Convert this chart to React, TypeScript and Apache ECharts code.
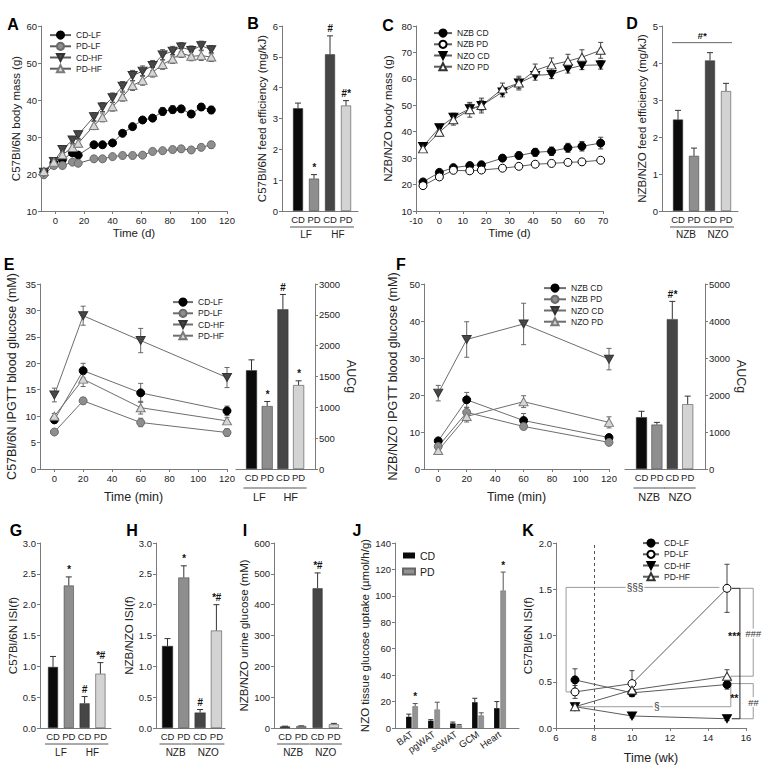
import React, { useEffect, useRef } from 'react';
import * as echarts from 'echarts';

const FONT = 'Arial, Liberation Sans, Helvetica, sans-serif';
const AX = '#7a7a7a';
const TXT = '#222222';

// ---------- Panel A: C57Bl/6N body mass ----------
const aDays = [-8, -1, 5, 12, 16, 27, 33, 40, 47, 54, 61, 68, 75, 82, 88, 95, 102, 109];
const aTicks = [0, 20, 40, 60, 80, 100, 120];
const aCDLF = [20.5, 23.0, 23.9, 25.7, 25.1, 27.9, 27.9, 28.4, 31.0, 32.8, 34.6, 35.1, 36.9, 37.4, 37.6, 36.2, 38.1, 37.3];
const aCDLFErr = [0.4, 0.5, 0.6, 0.6, 0.5, 0.6, 0.6, 0.6, 0.7, 0.8, 0.8, 0.9, 1.0, 1.0, 0.9, 0.9, 0.9, 1.0];
const aPDLF = [19.8, 22.3, 22.3, 23.2, 22.9, 24.1, 24.1, 24.7, 25.0, 25.0, 25.1, 26.1, 26.3, 26.6, 26.8, 26.5, 27.2, 27.9];
const aPDLFErr = [0.4, 0.5, 0.5, 0.5, 0.5, 0.5, 0.5, 0.5, 0.5, 0.5, 0.6, 0.6, 0.6, 0.7, 0.7, 0.7, 0.8, 0.9];
const aCDHF = [20.5, 23.4, 26.6, 29.2, 30.6, 35.5, 38.1, 40.6, 43.7, 46.6, 47.8, 49.3, 52.2, 53.2, 54.3, 53.4, 54.7, 53.6];
const aCDHFErr = [0.5, 0.6, 0.8, 0.9, 1.0, 1.1, 1.2, 1.3, 1.3, 1.4, 1.4, 1.4, 1.4, 1.3, 1.2, 1.2, 1.2, 1.1];
const aPDHF = [20.7, 23.2, 25.2, 27.2, 28.3, 33.1, 35.3, 38.2, 40.9, 43.9, 45.3, 47.5, 49.6, 51.1, 52.7, 51.8, 52.0, 51.6];
const aPDHFErr = [0.5, 0.6, 0.8, 0.9, 1.0, 1.1, 1.2, 1.2, 1.2, 1.3, 1.3, 1.3, 1.3, 1.2, 1.2, 1.2, 1.3, 1.2];

// ---------- Panel B: C57Bl/6N feed efficiency ----------
const dietCats = ['CD', 'PD', 'CD', 'PD'];
const fatGroups = ['LF', 'HF'];
const strainGroups = ['NZB', 'NZO'];
const bMean = [3.33, 1.05, 5.08, 3.42];
const bErr = [0.17, 0.13, 0.6, 0.16];
const bSig = ['', '*', '#', '#*'];

// ---------- Panel C: NZB/NZO body mass ----------
const cDays = [-7, 0, 6, 13, 18, 27, 34, 41, 48, 55, 61, 69];
const cTicks = [-10, 0, 10, 20, 30, 40, 50, 60, 70];
const cNZBCD = [21.0, 24.6, 26.4, 27.2, 27.5, 30.0, 31.0, 32.2, 32.6, 33.9, 34.5, 35.7];
const cNZBCDErr = [0.7, 0.8, 0.9, 1.0, 1.0, 1.2, 1.3, 1.5, 1.6, 1.7, 1.8, 2.2];
const cNZBPD = [19.6, 22.9, 25.4, 25.2, 25.5, 26.2, 26.9, 27.7, 28.0, 28.4, 28.6, 29.2];
const cNZBPDErr = [0.5, 0.6, 0.6, 0.6, 0.6, 0.6, 0.6, 0.7, 0.7, 0.7, 0.7, 0.8];
const cNZOCD = [34.4, 41.5, 45.5, 48.7, 49.9, 55.0, 58.4, 61.3, 61.7, 63.8, 65.1, 65.3];
const cNZOCDErr = [1.0, 1.2, 1.5, 1.8, 2.0, 1.8, 2.0, 1.8, 1.6, 1.6, 1.6, 1.6];
const cNZOPD = [33.5, 39.8, 44.5, 48.3, 49.9, 56.2, 58.4, 63.2, 65.3, 66.7, 68.2, 70.8];
const cNZOPDErr = [1.0, 1.5, 2.0, 2.8, 2.8, 2.2, 2.6, 2.4, 2.6, 2.6, 2.8, 3.0];

// ---------- Panel D: NZB/NZO feed efficiency ----------
const dMean = [2.47, 1.49, 4.07, 3.24];
const dErr = [0.25, 0.21, 0.21, 0.21];
const dBracketY = 4.55;
const dBracketText = '#*';

// ---------- Panel E: C57Bl/6N IPGTT ----------
const eTimes = [0, 20, 60, 120];
const eTicks = [0, 20, 40, 60, 80, 100, 120];
const eCDLF = [9.3, 18.6, 14.4, 11.0];
const eCDLFErr = [0.6, 1.4, 1.8, 0.9];
const ePDLF = [7.0, 12.9, 8.8, 6.9];
const ePDLFErr = [0.3, 0.6, 0.8, 0.7];
const eCDHF = [14.0, 29.0, 24.3, 17.3];
const eCDHFErr = [1.3, 1.8, 2.3, 1.9];
const ePDHF = [10.0, 17.0, 11.6, 9.1];
const ePDHFErr = [0.5, 1.4, 1.2, 0.6];
const eAUC = [1600, 1020, 2590, 1360];
const eAUCErr = [170, 75, 240, 70];
const eSig = ['', '*', '#', '*'];

// ---------- Panel F: NZB/NZO IPGTT ----------
const fNZBCD = [7.6, 18.7, 13.1, 8.5];
const fNZBCDErr = [0.6, 2.0, 1.9, 0.7];
const fNZBPD = [6.1, 15.3, 11.5, 7.2];
const fNZBPDErr = [0.6, 1.3, 0.8, 0.5];
const fNZOCD = [20.5, 35.0, 39.2, 29.7];
const fNZOCDErr = [2.1, 4.8, 5.6, 2.9];
const fNZOPD = [5.0, 14.2, 18.2, 12.6];
const fNZOPDErr = [0.8, 1.5, 1.6, 1.5];
const fAUC = [1400, 1200, 4050, 1750];
const fAUCErr = [160, 60, 480, 220];
const fSig = ['', '', '#*', ''];

// ---------- Panels G, H, I ----------
const gMean = [0.99, 2.31, 0.4, 0.88];
const gErr = [0.17, 0.14, 0.11, 0.18];
const gSig = ['', '*', '#', '*#'];
const hMean = [1.33, 2.44, 0.25, 1.58];
const hErr = [0.12, 0.19, 0.05, 0.42];
const hSig = ['', '*', '#', '*#'];
const iMean = [5, 6, 453, 12];
const iErr = [1, 1, 50, 3];
const iSig = ['', '', '*#', ''];

// ---------- Panel J: tissue glucose uptake ----------
const jTissues = ['BAT', 'pgWAT', 'scWAT', 'GCM', 'Heart'];
const jCD = [8.5, 5.5, 3.5, 19.5, 15];
const jCDErr = [2, 0.8, 1, 3, 5];
const jPD = [16.5, 14, 2, 9.5, 104];
const jPDErr = [2, 5.5, 0.6, 2, 14];
const jSig = ['*', '', '', '', '*'];

// ---------- Panel K: ISI over time ----------
const kWeeks = [7, 10, 15];
const kCDLF = [0.52, 0.38, 0.47];
const kCDLFErr = [0.12, 0.04, 0.05];
const kPDLF = [0.39, 0.48, 1.51];
const kPDLFErr = [0.07, 0.14, 0.26];
const kCDHF = [0.23, 0.13, 0.1];
const kCDHFErr = [0.03, 0.02, 0.02];
const kPDHF = [0.23, 0.41, 0.56];
const kPDHFErr = [0.04, 0.04, 0.07];

// ---------------------------------------------------------------
const DOWN = 'path://M0,0L10,0L5,8.66Z';
const SYM: Record<string, any> = {
  black: { symbol: 'circle', size: 8, fill: '#000', border: '#000' },
  gray: { symbol: 'circle', size: 8, fill: '#8e8e8e', border: '#6a6a6a' },
  open: { symbol: 'circle', size: 8, fill: '#fff', border: '#000' },
  darkDown: { symbol: DOWN, size: [9, 8], fill: '#484848', border: '#333' },
  blackDown: { symbol: DOWN, size: [9, 8], fill: '#000', border: '#000' },
  lightUp: { symbol: 'triangle', size: [9, 8], fill: '#d6d6d6', border: '#7a7a7a' },
  openUp: { symbol: 'triangle', size: [9, 8], fill: '#fff', border: '#333' },
};
const BAR_COLORS = ['#0b0b0b', '#8e8e8e', '#464646', '#d3d3d3'];

function barLayout(axisLeft: number, firstCenter: number, spacing: number, axisRight: number) {
  return {
    left: axisLeft,
    width: axisRight - axisLeft,
    min: 1 - (firstCenter - axisLeft) / spacing,
    max: 1 + (axisRight - firstCenter) / spacing,
  };
}

function buildOption() {
  const grids: any[] = [];
  const xAxes: any[] = [];
  const yAxes: any[] = [];
  const series: any[] = [];
  const legends: any[] = [];

  const lbl = (fs = 9.5, margin = 4) => ({ color: TXT, fontSize: fs, fontFamily: FONT, margin });
  const tick = { show: true, length: 3, lineStyle: { color: AX, width: 1 } };
  const line = { show: true, onZero: false, lineStyle: { color: AX, width: 1 } };
  const nameStyle = (fs = 11.5) => ({ color: TXT, fontSize: fs, fontFamily: FONT, fontWeight: 'normal' });

  function addGrid(left: number, top: number, width: number, height: number) {
    grids.push({ left, top, width, height, containLabel: false, outerBoundsMode: 'none', show: false });
    return grids.length - 1;
  }
  function xValue(g: number, min: number, max: number, ticks: number[], name: string, nameGap: number, fs = 11.5) {
    xAxes.push({
      gridIndex: g, type: 'value', min, max,
      axisLine: line,
      axisTick: { ...tick, customValues: ticks },
      axisLabel: { ...lbl(9.5, 4), customValues: ticks },
      splitLine: { show: false },
      name, nameLocation: 'middle', nameGap, nameTextStyle: nameStyle(fs),
    });
  }
  function xBars(g: number, lay: any, labels: string[], fs = 9.5, rotate = 0) {
    const vals = labels.map((_, i) => i + 1);
    xAxes.push({
      gridIndex: g, type: 'value', min: lay.min, max: lay.max,
      axisLine: line,
      axisTick: { show: false },
      axisLabel: {
        ...lbl(fs, rotate ? 5 : 3), rotate, customValues: vals,
        formatter: (v: number) => labels[Math.round(v) - 1] ?? '',
      },
      splitLine: { show: false },
    });
  }
  function yValue(g: number, min: number, max: number, interval: number, name: string, nameGap: number, o: any = {}) {
    yAxes.push({
      gridIndex: g, type: 'value', min, max, interval,
      position: o.position || 'left',
      axisLine: line,
      axisTick: tick,
      axisLabel: { ...lbl(9.5, 4), formatter: o.fmt || ((v: number) => String(v)) },
      splitLine: { show: false },
      name, nameLocation: 'middle', nameGap, nameRotate: o.rotate ?? 90, nameTextStyle: nameStyle(o.fs || 11.5),
    });
  }

  function errSeries(g: number, xs: number[], ys: number[], errs: number[], o: any) {
    const data = xs.map((x, i) => [x, o.both ? ys[i] - errs[i] : ys[i], ys[i] + errs[i]]);
    return {
      type: 'custom', xAxisIndex: g, yAxisIndex: g, silent: true, clip: false, z: o.z ?? 1,
      encode: { x: 0, y: [1, 2] }, data,
      renderItem: (_p: any, api: any) => {
        const x = api.value(0);
        const lo = api.coord([x, api.value(1)]);
        const hi = api.coord([x, api.value(2)]);
        const cx = lo[0] + (o.dx || 0);
        const c = o.cap;
        const st = { stroke: o.color, lineWidth: 1 };
        const ch: any[] = [
          { type: 'line', shape: { x1: cx, y1: lo[1], x2: cx, y2: hi[1] }, style: st },
          { type: 'line', shape: { x1: cx - c, y1: hi[1], x2: cx + c, y2: hi[1] }, style: st },
        ];
        if (o.both) ch.push({ type: 'line', shape: { x1: cx - c, y1: lo[1], x2: cx + c, y2: lo[1] }, style: st });
        return { type: 'group', children: ch };
      },
    };
  }
  function textSeries(g: number, pts: number[][], texts: string[], o: any = {}) {
    return {
      type: 'custom', xAxisIndex: g, yAxisIndex: g, silent: true, clip: false, z: 6,
      encode: { x: 0, y: 1 }, data: pts,
      renderItem: (p: any, api: any) => {
        const t = texts[p.dataIndex];
        if (!t) return { type: 'group', children: [] };
        const c = api.coord([api.value(0), api.value(1)]);
        return {
          type: 'text', x: c[0] + (o.dx || 0), y: c[1] + (o.dy ?? -2),
          style: {
            text: t, fontSize: o.fs || 10, fontFamily: FONT, fontWeight: o.weight || 'bold',
            fontStyle: o.italic ? 'italic' : 'normal', fill: o.color || '#111',
            align: 'center', textAlign: 'center', verticalAlign: o.va || 'bottom', textVerticalAlign: o.va || 'bottom',
            backgroundColor: o.bg, padding: o.bg ? [0, 1] : 0,
          },
        };
      },
    };
  }
  function groupSeries(g: number, groups: string[], yMin: number, lineDy: number, textDy: number, half: number, fs = 10) {
    return {
      type: 'custom', xAxisIndex: g, yAxisIndex: g, silent: true, clip: false, z: 6,
      encode: { x: [0, 1], y: 2 },
      data: groups.map((_, i) => [2 * i + 1, 2 * i + 2, yMin]),
      renderItem: (p: any, api: any) => {
        const a = api.coord([api.value(0), api.value(2)]);
        const b = api.coord([api.value(1), api.value(2)]);
        return {
          type: 'group',
          children: [
            { type: 'line', shape: { x1: a[0] - half, y1: a[1] + lineDy, x2: b[0] + half, y2: a[1] + lineDy }, style: { stroke: '#555', lineWidth: 1 } },
            {
              type: 'text', x: (a[0] + b[0]) / 2, y: a[1] + textDy,
              style: { text: groups[p.dataIndex], fontSize: fs, fontFamily: FONT, fill: TXT, align: 'center', textAlign: 'center', verticalAlign: 'middle', textVerticalAlign: 'middle' },
            },
          ],
        };
      },
    };
  }
  function addLines(g: number, prefix: string, xs: number[], defs: any[], errColor = '#555', lineColor = '#5c5c5c') {
    defs.forEach((d) => series.push(errSeries(g, xs, d.ys, d.errs, { both: true, color: errColor, cap: 2.5, z: 2 })));
    defs.forEach((d) =>
      series.push({
        type: 'line', name: prefix + '|' + d.name, xAxisIndex: g, yAxisIndex: g,
        data: xs.map((x, i) => [x, d.ys[i]]),
        symbol: d.sym.symbol, symbolSize: d.sym.size, showSymbol: true,
        lineStyle: { color: lineColor, width: 1 },
        itemStyle: { color: d.sym.fill, borderColor: d.sym.border, borderWidth: 1 },
        z: 3, silent: true, emphasis: { disabled: true },
      })
    );
  }
  function addBars(g: number, means: number[], errs: number[], sig: string[], barWidth: number) {
    const xs = means.map((_, i) => i + 1);
    series.push({
      type: 'bar', xAxisIndex: g, yAxisIndex: g, barWidth, silent: true, z: 3,
      data: means.map((v, i) => ({ value: [i + 1, v], itemStyle: { color: BAR_COLORS[i], borderColor: '#333', borderWidth: 0.5 } })),
    });
    series.push(errSeries(g, xs, means, errs, { both: false, color: '#333', cap: 3, z: 2 }));
    series.push(textSeries(g, xs.map((x, i) => [x, means[i] + errs[i]]), sig, { italic: true }));
  }
  function makeLegend(prefix: string, names: string[], left: number, top: number, itemWidth: number, o: any = {}) {
    legends.push({
      orient: 'vertical', left, top, padding: 0, itemWidth, itemHeight: o.itemHeight || 9, itemGap: o.itemGap ?? 2,
      selectedMode: false, icon: o.icon,
      data: names.map((n) => prefix + '|' + n),
      formatter: (n: string) => n.split('|')[1],
      textStyle: { fontSize: o.fs || 8.5, fontFamily: FONT, color: TXT, lineHeight: o.lh || 9 },
    });
  }

  const TOP1 = 26, TOP2 = 284, TOP3 = 543, H = 185;

  // A
  const gA = addGrid(41, TOP1, 186, H);
  xValue(gA, -10, 120, aTicks, 'Time (d)', 16);
  yValue(gA, 10, 60, 10, 'C57Bl/6N body mass (g)', 19);
  addLines(gA, 'A', aDays, [
    { name: 'CD-LF', ys: aCDLF, errs: aCDLFErr, sym: SYM.black },
    { name: 'PD-LF', ys: aPDLF, errs: aPDLFErr, sym: SYM.gray },
    { name: 'CD-HF', ys: aCDHF, errs: aCDHFErr, sym: SYM.darkDown },
    { name: 'PD-HF', ys: aPDHF, errs: aPDHFErr, sym: SYM.lightUp },
  ]);
  makeLegend('A', ['CD-LF', 'PD-LF', 'CD-HF', 'PD-HF'], 49, 30.5, 21);

  // B
  const lB = barLayout(282, 298, 16, 358);
  const gB = addGrid(lB.left, TOP1, lB.width, H);
  xBars(gB, lB, dietCats);
  yValue(gB, 0, 6, 1, 'C57Bl/6N feed efficiency (mg/kJ)', 14);
  addBars(gB, bMean, bErr, bSig, 10);
  series.push(groupSeries(gB, fatGroups, 0, 16, 23, 8));

  // C
  const gC = addGrid(416, TOP1, 187, H);
  xValue(gC, -10, 70, cTicks, 'Time (d)', 16);
  yValue(gC, 10, 80, 10, 'NZB/NZO body mass (g)', 22);
  addLines(gC, 'C', cDays, [
    { name: 'NZB CD', ys: cNZBCD, errs: cNZBCDErr, sym: SYM.black },
    { name: 'NZB PD', ys: cNZBPD, errs: cNZBPDErr, sym: SYM.open },
    { name: 'NZO CD', ys: cNZOCD, errs: cNZOCDErr, sym: SYM.blackDown },
    { name: 'NZO PD', ys: cNZOPD, errs: cNZOPDErr, sym: SYM.openUp },
  ], '#444');
  makeLegend('C', ['NZB CD', 'NZB PD', 'NZO CD', 'NZO PD'], 433, 28.5, 18);

  // D
  const lD = barLayout(662, 678, 16, 738);
  const gD = addGrid(lD.left, TOP1, lD.width, H);
  xBars(gD, lD, dietCats);
  yValue(gD, 0, 5, 1, 'NZB/NZO feed efficiency (mg/kJ)', 14);
  addBars(gD, dMean, dErr, ['', '', '', ''], 10);
  series.push(groupSeries(gD, strainGroups, 0, 16, 23, 8));
  series.push({
    type: 'custom', xAxisIndex: gD, yAxisIndex: gD, silent: true, clip: false, z: 6,
    encode: { x: [0, 1], y: 2 }, data: [[1, 4, dBracketY]],
    renderItem: (_p: any, api: any) => {
      const a = api.coord([api.value(0), api.value(2)]);
      const b = api.coord([api.value(1), api.value(2)]);
      return {
        type: 'group',
        children: [
          { type: 'line', shape: { x1: a[0] - 6, y1: a[1], x2: b[0] + 6, y2: a[1] }, style: { stroke: '#666', lineWidth: 1 } },
          { type: 'text', x: (a[0] + b[0]) / 2, y: a[1] - 2, style: { text: dBracketText, fontSize: 9.5, fontWeight: 'bold', fontStyle: 'italic', fontFamily: FONT, fill: '#111', align: 'center', textAlign: 'center', verticalAlign: 'bottom', textVerticalAlign: 'bottom' } },
        ],
      };
    },
  });

  // E (line + AUC bars)
  const gE = addGrid(40, TOP2, 187, H);
  xValue(gE, -10, 120, eTicks, 'Time (min)', 21, 12.5);
  yValue(gE, 0, 35, 5, 'C57Bl/6N IPGTT blood glucose (mM)', 22, { fs: 12.5 });
  addLines(gE, 'E', eTimes, [
    { name: 'CD-LF', ys: eCDLF, errs: eCDLFErr, sym: SYM.black },
    { name: 'PD-LF', ys: ePDLF, errs: ePDLFErr, sym: SYM.gray },
    { name: 'CD-HF', ys: eCDHF, errs: eCDHFErr, sym: SYM.darkDown },
    { name: 'PD-HF', ys: ePDHF, errs: ePDHFErr, sym: SYM.lightUp },
  ], '#666', '#6e6e6e');
  makeLegend('E', ['CD-LF', 'PD-LF', 'CD-HF', 'PD-HF'], 172, 297.5, 20);

  const lEb = barLayout(236, 251.5, 15.7, 315);
  const gEb = addGrid(lEb.left, TOP2, lEb.width, H);
  xBars(gEb, lEb, dietCats);
  yValue(gEb, 0, 3000, 500, 'AUCg', 27, { position: 'right', rotate: -90, fs: 12.5 });
  addBars(gEb, eAUC, eAUCErr, eSig, 11);
  series.push(groupSeries(gEb, fatGroups, 0, 19, 28, 8, 11));

  // F
  const gF = addGrid(424, TOP2, 185, H);
  xValue(gF, -10, 120, eTicks, 'Time (min)', 21, 12.5);
  yValue(gF, 0, 50, 10, 'NZB/NZO IPGTT blood glucose (mM)', 25, { fs: 12.5 });
  addLines(gF, 'F', eTimes, [
    { name: 'NZB CD', ys: fNZBCD, errs: fNZBCDErr, sym: SYM.black },
    { name: 'NZB PD', ys: fNZBPD, errs: fNZBPDErr, sym: SYM.gray },
    { name: 'NZO CD', ys: fNZOCD, errs: fNZOCDErr, sym: SYM.darkDown },
    { name: 'NZO PD', ys: fNZOPD, errs: fNZOPDErr, sym: SYM.lightUp },
  ], '#666', '#6e6e6e');
  makeLegend('F', ['NZB CD', 'NZB PD', 'NZO CD', 'NZO PD'], 543, 283.5, 22);

  const lFb = barLayout(625, 641.5, 15.4, 705);
  const gFb = addGrid(lFb.left, TOP2, lFb.width, H);
  xBars(gFb, lFb, dietCats);
  yValue(gFb, 0, 5000, 1000, 'AUCg', 29, { position: 'right', rotate: -90, fs: 12.5 });
  addBars(gFb, fAUC, fAUCErr, fSig, 11);
  series.push(groupSeries(gFb, strainGroups, 0, 19, 28, 8, 11));

  const fmt1 = (v: number) => v.toFixed(1);
  // G
  const lG = barLayout(40, 53, 15.8, 111);
  const gG = addGrid(lG.left, TOP3, lG.width, H);
  xBars(gG, lG, dietCats);
  yValue(gG, 0, 3, 0.5, 'C57Bl/6N ISI(f)', 20, { fmt: fmt1 });
  addBars(gG, gMean, gErr, gSig, 10);
  series.push(groupSeries(gG, fatGroups, 0, 16, 24, 8));

  // H
  const lH = barLayout(156, 167.5, 16.3, 225);
  const gH = addGrid(lH.left, TOP3, lH.width, H);
  xBars(gH, lH, dietCats);
  yValue(gH, 0, 3, 0.5, 'NZB/NZO ISI(f)', 18, { fmt: fmt1 });
  addBars(gH, hMean, hErr, hSig, 11);
  series.push(groupSeries(gH, strainGroups, 0, 16, 24, 8));

  // I
  const lI = barLayout(274, 285, 16.3, 342);
  const gI = addGrid(lI.left, TOP3, lI.width, H);
  xBars(gI, lI, dietCats);
  yValue(gI, 0, 600, 100, 'NZB/NZO urine glucose (mM)', 24);
  addBars(gI, iMean, iErr, iSig, 10);
  series.push(groupSeries(gI, strainGroups, 0, 16, 24, 8));

  // J
  const lJ = barLayout(395, 412, 22, 519);
  const gJ = addGrid(lJ.left, TOP3, lJ.width, H);
  xBars(gJ, lJ, jTissues, 9.5, 35);
  yValue(gJ, 0, 140, 20, 'NZO tissue glucose uptake (\u00b5mol/h/g)', 20);
  const jx = jTissues.map((_, i) => i + 1);
  series.push({
    type: 'bar', name: 'J|CD', xAxisIndex: gJ, yAxisIndex: gJ, barWidth: 5.5, barGap: '15%', silent: true, z: 3,
    itemStyle: { color: '#0b0b0b' }, data: jx.map((x, i) => [x, jCD[i]]),
  });
  series.push({
    type: 'bar', name: 'J|PD', xAxisIndex: gJ, yAxisIndex: gJ, barWidth: 5.5, barGap: '15%', silent: true, z: 3,
    itemStyle: { color: '#939393', borderColor: '#666', borderWidth: 0.5 }, data: jx.map((x, i) => [x, jPD[i]]),
  });
  series.push(errSeries(gJ, jx, jCD, jCDErr, { both: false, color: '#333', cap: 2.5, dx: -3.2, z: 2 }));
  series.push(errSeries(gJ, jx, jPD, jPDErr, { both: false, color: '#555', cap: 2.5, dx: 3.2, z: 2 }));
  series.push(textSeries(gJ, jx.map((x, i) => [x, jPD[i] + jPDErr[i]]), jSig, { dx: 3.2 }));
  makeLegend('J', ['CD', 'PD'], 402, 550, 12, { icon: 'rect', itemHeight: 6, itemGap: 5, fs: 10.5, lh: 10 });

  // K
  const gK = addGrid(556, TOP3, 190, H);
  xAxes.push({
    gridIndex: gK, type: 'value', min: 6, max: 16, interval: 2,
    axisLine: line, axisTick: tick, axisLabel: lbl(9.5, 4), splitLine: { show: false },
    name: 'Time (wk)', nameLocation: 'middle', nameGap: 23, nameTextStyle: nameStyle(12.5),
  });
  yValue(gK, 0, 2, 0.5, 'C57Bl/6N ISI(f)', 22, { fmt: fmt1 });
  addLines(gK, 'K', kWeeks, [
    { name: 'CD-LF', ys: kCDLF, errs: kCDLFErr, sym: SYM.black },
    { name: 'PD-LF', ys: kPDLF, errs: kPDLFErr, sym: SYM.open },
    { name: 'CD-HF', ys: kCDHF, errs: kCDHFErr, sym: SYM.blackDown },
    { name: 'PD-HF', ys: kPDHF, errs: kPDHFErr, sym: SYM.openUp },
  ], '#444');
  series.push({
    type: 'line', xAxisIndex: gK, yAxisIndex: gK, data: [], silent: true,
    markLine: {
      silent: true, symbol: ['none', 'none'], label: { show: false },
      lineStyle: { type: [3, 3], color: '#555', width: 1 }, data: [{ xAxis: 8 }],
    },
  });
  makeLegend('K', ['CD-LF', 'PD-LF', 'CD-HF', 'PD-HF'], 642, 538.5, 16);

  const kBrackets = [
    { pts: [[6.85, 0.39], [6.53, 0.39], [6.53, 1.52], [14.6, 1.52]], c: '#9a9a9a' },
    { pts: [[7.15, 0.23], [15.2, 0.23], [15.2, 0.56], [15.68, 0.56]], c: '#9a9a9a' },
    { pts: [[15.2, 0.48], [15.68, 0.48]], c: '#9a9a9a' },
    { pts: [[15.68, 1.51], [16.38, 1.51], [16.38, 0.56], [15.68, 0.56]], c: '#9a9a9a' },
    { pts: [[15.68, 0.48], [16.38, 0.48], [16.38, 0.1], [15.68, 0.1]], c: '#9a9a9a' },
    { pts: [[15.25, 1.51], [15.68, 1.51], [15.68, 0.1], [15.25, 0.1]], c: '#222' },
  ];
  series.push({
    type: 'custom', xAxisIndex: gK, yAxisIndex: gK, silent: true, clip: false, z: 1,
    encode: { x: 0, y: 1 }, data: kBrackets.map((b) => b.pts[0]),
    renderItem: (p: any, api: any) => {
      const b = kBrackets[p.dataIndex];
      return { type: 'polyline', shape: { points: b.pts.map((q) => api.coord(q)) }, style: { stroke: b.c, lineWidth: 1, fill: 'none' } };
    },
  });
  series.push(textSeries(gK, [[10.16, 1.52], [11.3, 0.23]], ['\u00a7\u00a7\u00a7', '\u00a7'], { va: 'middle', dy: 0, bg: '#fff', color: '#333', weight: 'normal', fs: 10 }));
  series.push(textSeries(gK, [[15.38, 0.99], [15.38, 0.32]], ['***', '**'], { va: 'middle', dy: 0, fs: 10.5 }));
  series.push(textSeries(gK, [[16.38, 1.02], [16.38, 0.28]], ['###', '##'], { va: 'middle', dy: 0, bg: '#fff', italic: true, weight: 'normal', fs: 9.5, color: '#333' }));

  const letters: [string, number, number][] = [
    ['A', 13, 24.5], ['B', 253, 23], ['C', 388, 25], ['D', 632, 23.5],
    ['E', 9, 264.5], ['F', 401, 264.5],
    ['G', 16, 530], ['H', 132, 530], ['I', 245, 530], ['J', 357, 530], ['K', 528, 530],
  ];

  return {
    animation: false,
    backgroundColor: '#fff',
    textStyle: { fontFamily: FONT },
    grid: grids,
    xAxis: xAxes,
    yAxis: yAxes,
    legend: legends,
    series,
    graphic: letters.map(([t, x, y]) => ({
      type: 'text', x, y, silent: true,
      style: { text: t, fontSize: 16, fontWeight: 'bold', fontFamily: 'Arial, Liberation Sans, sans-serif', fill: '#000', align: 'center', textAlign: 'center', verticalAlign: 'middle', textVerticalAlign: 'middle' },
    })),
  };
}

export default function App() {
  const ref = useRef<HTMLDivElement>(null);
  useEffect(() => {
    document.body.style.margin = '0';
    const chart = echarts.init(ref.current as HTMLDivElement, null, { renderer: 'svg' });
    chart.setOption(buildOption() as any);
    return () => chart.dispose();
  }, []);
  return <div ref={ref} style={{ width: 764, height: 766, background: '#fff' }} />;
}
